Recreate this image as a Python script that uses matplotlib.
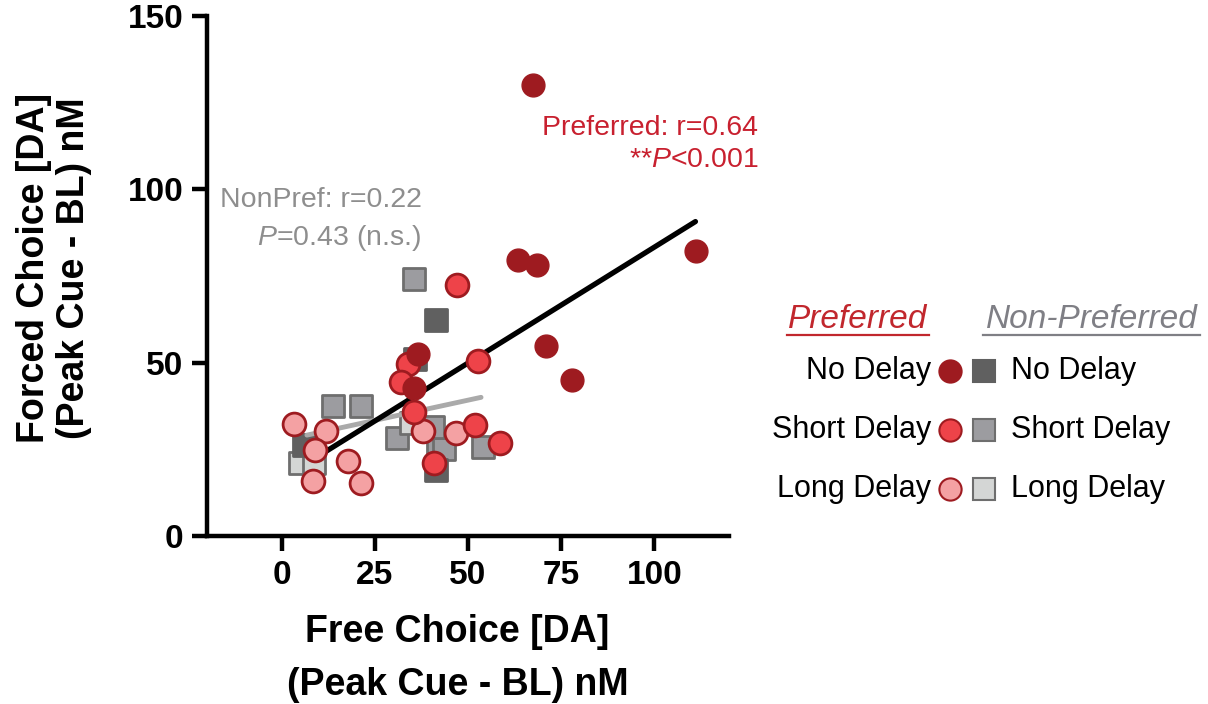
import numpy as np
import matplotlib
matplotlib.use("Agg")
import matplotlib.pyplot as plt
from matplotlib.lines import Line2D

plt.rcParams['font.family'] = ['Liberation Sans', 'DejaVu Sans']
plt.rcParams['mathtext.fontset'] = 'custom'
plt.rcParams['mathtext.rm'] = 'Liberation Sans'
plt.rcParams['mathtext.it'] = 'Liberation Sans:italic'

# Preferred option (circles)
pref_no_x = [67.3, 63.5, 68.6, 111.2, 70.8, 77.9, 36.6, 35.6]
pref_no_y = [130.1, 79.6, 78.2, 82.2, 54.8, 45.0, 52.5, 42.7]
pref_short_x = [47.0, 52.7, 33.9, 31.9, 35.5, 51.9, 58.7, 40.9]
pref_short_y = [72.4, 50.5, 49.5, 44.3, 35.9, 31.9, 26.9, 21.1]
pref_long_x = [3.2, 11.9, 8.9, 8.3, 17.9, 21.2, 37.9, 46.8]
pref_long_y = [32.2, 30.4, 24.7, 15.9, 21.7, 15.2, 30.2, 29.6]

# Non-preferred option (squares)
non_no_x = [41.4, 35.7, 5.9, 41.4]
non_no_y = [62.3, 51.0, 26.2, 19.0]
non_short_x = [35.4, 13.7, 21.2, 30.9, 42.0, 43.5, 53.9, 40.5]
non_short_y = [74.1, 37.6, 37.6, 28.2, 25.8, 25.0, 25.8, 31.5]
non_long_x = [5.0, 8.6, 34.8]
non_long_y = [21.0, 21.0, 32.5]

# regression lines
pref_fit_x = [11.3, 111.0]
pref_fit_y = [24.0, 90.7]
non_fit_x = [6.8, 53.5]
non_fit_y = [29.1, 40.0]

c_dark = '#9E1B20'
c_red = '#EE4349'
c_pink = '#F4A1A3'
c_g1 = '#606060'
c_g2 = '#9C9CA0'
c_g3 = '#D4D6D5'
c_edge_g = '#6E6E6E'
c_txt_red = '#C8202F'
c_txt_gray = '#8E8E8E'

fig = plt.figure(figsize=(12.08, 7.04), dpi=100)
ax = fig.add_axes([207/1208, 1-536/704, (729-207)/1208, (536-16)/704])

ms = 270
ax.scatter(non_short_x, non_short_y, s=ms, marker='s', c=c_g2, edgecolors=c_edge_g, linewidths=2, zorder=2)
ax.scatter(non_long_x, non_long_y, s=ms, marker='s', c=c_g3, edgecolors=c_edge_g, linewidths=2, zorder=2)
ax.scatter(non_no_x, non_no_y, s=ms, marker='s', c=c_g1, edgecolors=c_g1, linewidths=2, zorder=2)

ax.plot(non_fit_x, non_fit_y, color='#AAAAAA', linewidth=3.5, solid_capstyle='round', zorder=3)
ax.plot(pref_fit_x, pref_fit_y, color='black', linewidth=3.8, solid_capstyle='round', zorder=4)

ax.scatter(pref_long_x, pref_long_y, s=ms, marker='o', c=c_pink, edgecolors=c_dark, linewidths=2, zorder=5)
ax.scatter(pref_short_x, pref_short_y, s=ms, marker='o', c=c_red, edgecolors=c_dark, linewidths=2, zorder=5)
ax.scatter(pref_no_x, pref_no_y, s=ms, marker='o', c=c_dark, edgecolors=c_dark, linewidths=1, zorder=6)

ax.set_xlim(-20, 120)
ax.set_ylim(0, 150)
ax.set_xticks([0, 25, 50, 75, 100])
ax.set_yticks([0, 50, 100, 150])
for s in ['top', 'right']:
    ax.spines[s].set_visible(False)
for s in ['left', 'bottom']:
    ax.spines[s].set_linewidth(3.2)
ax.tick_params(axis='both', direction='out', length=11, width=3.2, labelsize=24, pad=6)
for lab in ax.get_xticklabels() + ax.get_yticklabels():
    lab.set_fontweight('bold')

ax.set_xlabel("Free Choice [DA]\n(Peak Cue - BL) nM", fontsize=27, fontweight='bold', linespacing=1.6)
ax.set_ylabel("Forced Choice [DA]\n(Peak Cue - BL) nM", fontsize=27, fontweight='bold', linespacing=1.15)
ax.xaxis.set_label_coords(0.48, -0.15)
ax.yaxis.set_label_coords(-0.22, 0.515)

# correlation annotations
ax.text(127.9, 117.7, "Preferred: r=0.64", color=c_txt_red, fontsize=20.5, ha='right', va='center')
ax.text(127.9, 108.5, r"**$\mathit{P}$<0.001", color=c_txt_red, fontsize=20.5, ha='right', va='center')
ax.text(37.5, 96.9, "NonPref: r=0.22", color=c_txt_gray, fontsize=20.5, ha='right', va='center')
ax.text(37.5, 86.0, r"$\mathit{P}$=0.43 (n.s.)", color=c_txt_gray, fontsize=20.5, ha='right', va='center')

# custom legend
W, H = 1208, 704
def fx(px):
    return px / W
def fy(py):
    return 1 - py / H

fig.text(fx(858), fy(320), "Preferred", color='#C1272D', fontsize=24, style='italic', ha='center', va='center')
fig.text(fx(1092), fy(320), "Non-Preferred", color='#7F7F85', fontsize=24, style='italic', ha='center', va='center')
fig.add_artist(Line2D([fx(787), fx(929)], [fy(335), fy(335)], color='#C1272D', linewidth=1.6))
fig.add_artist(Line2D([fx(983), fx(1200)], [fy(335), fy(335)], color='#7F7F85', linewidth=1.6))

rows = ["No Delay", "Short Delay", "Long Delay"]
row_y = [371, 430, 489]
circ_face = [c_dark, c_red, c_pink]
sq_face = [c_g1, c_g2, c_g3]
sq_edge = [c_g1, c_edge_g, c_edge_g]
for lab, py, cf, sf, se in zip(rows, row_y, circ_face, sq_face, sq_edge):
    fig.text(fx(931), fy(py), lab, fontsize=22, ha='right', va='center')
    fig.text(fx(1011), fy(py), lab, fontsize=22, ha='left', va='center')
    fig.add_artist(Line2D([fx(950)], [fy(py)], marker='o', markersize=16, markerfacecolor=cf,
                          markeredgecolor=c_dark, markeredgewidth=1.5, linestyle='none'))
    fig.add_artist(Line2D([fx(984)], [fy(py)], marker='s', markersize=16, markerfacecolor=sf,
                          markeredgecolor=se, markeredgewidth=1.5, linestyle='none'))

fig.savefig("out.png", dpi=100)
